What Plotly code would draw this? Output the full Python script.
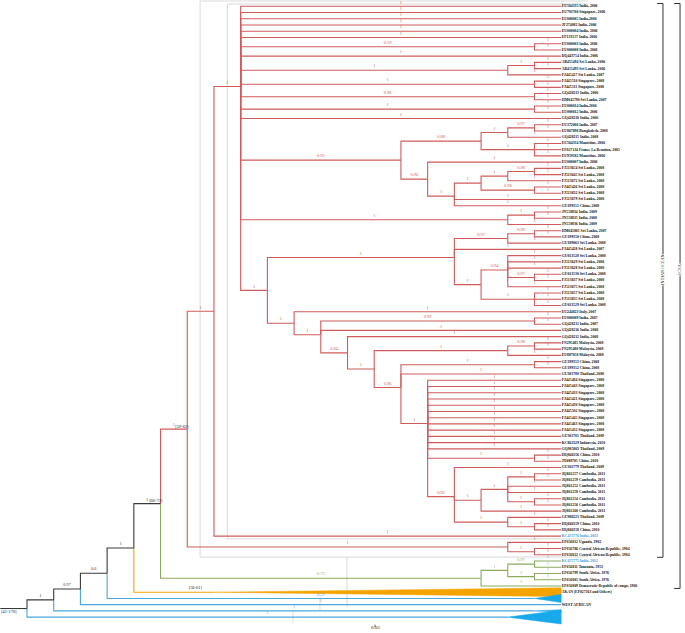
import plotly.graph_objects as go

# ---------------- data ----------------
LEAF_LABELS = [
    "EU564335 India, 2006", "EU703760 Singapore, 2006", "EU000005 India,2006", "JF274082 India, 2006",
    "EU000004 India, 2006", "EF133157 India, 2006", "EU000003 India, 2006", "EU000008 India, 2006",
    "DQ443754 India, 2006", "AB455494 Sri Lanka, 2006", "AB455493 Sri Lanka, 2006", "FJ445427 Sri Lanka, 2007",
    "FJ445510 Singapore, 2008", "FJ445511 Singapore, 2008", "GQ428213 India, 2006", "HM045790 Sri Lanka, 2007",
    "EU000014 India,2006", "EU000012 India, 2006", "GQ428210 India, 2006", "EU372006 India, 2007",
    "EU867898 Bangladesh, 2008", "GQ428215 India, 2008", "EU564334 Mauritius, 2006", "EF027134 France La Reunion, 2005",
    "EU959182 Mauritius, 2006", "EU000007 India, 2006", "FJ513654 Sri Lanka, 2008", "FJ513645 Sri Lanka, 2008",
    "FJ513672 Sri Lanka, 2008", "FJ445426 Sri Lanka, 2008", "FJ513632 Sri Lanka, 2008", "FJ513679 Sri Lanka, 2008",
    "GU199351 China, 2008", "JN558834 India, 2009", "JN558835 India, 2008", "JN558836 India, 2009",
    "HM045801 Sri Lanka, 2007", "GU199350 China, 2008", "GU189063 Sri Lanka, 2008", "FJ445428 Sri Lanka, 2007",
    "GU013528 Sri Lanka, 2008", "FJ513629 Sri Lanka, 2008", "FJ513628 Sri Lanka, 2008", "GU013530 Sri Lanka, 2008",
    "FJ513637 Sri Lanka, 2008", "FJ513675 Sri Lanka, 2008", "FJ513657 Sri Lanka, 2008", "FJ513635 Sri Lanka, 2008",
    "GU013529 Sri Lanka, 2008", "EU244823 Italy, 2007", "EU000009 India, 2007", "GQ428211 India, 2007",
    "GQ428216 India, 2008", "GQ428212 India, 2008", "FN295485 Malaysia, 2008", "FN295480 Malaysia, 2008",
    "EU887058 Malaysia, 2008", "GU199353 China, 2008", "GU199352 China, 2008", "GU301780 Thailand, 2008",
    "FJ445484 Singapore, 2008", "FJ445443 Singapore, 2008", "FJ445433 Singapore, 2008", "FJ445421 Singapore, 2008",
    "FJ445430 Singapore, 2008", "FJ445502 Singapore, 2008", "FJ445445 Singapore, 2008", "FJ445463 Singapore, 2008",
    "FJ445432 Singapore, 2008", "GU301781 Thailand, 2009", "KC862329 Indonesia, 2010", "GQ905863 Thailand, 2009",
    "HQ846356 China, 2010", "JX088705 China, 2010", "GU301779 Thailand, 2009", "JQ861257 Cambodia, 2011",
    "JQ861259 Cambodia, 2011", "JQ861252 Cambodia, 2011", "JQ861258 Cambodia, 2011", "JQ861254 Cambodia, 2011",
    "JQ861256 Cambodia, 2011", "JQ861260 Cambodia, 2011", "GU908223 Thailand, 2009", "HQ846359 China, 2010",
    "HQ846358 China, 2010", "KC475776 India, 2013", "EF056812 Uganda, 1982", "EF056786 Central African Republic, 1984",
    "EF056822 Central African Republic, 1984", "KC475775 India, 2012", "EF056811 Tanzania, 1953", "EF056799 South Africa, 1976",
    "EF056805 South Africa, 1976", "EF056809 Democratic Republic of congo, 1960",
]
BLUE_TEXT = ["KC475776 India, 2013", "KC475775 India, 2012"]
COLLAPSED_TEXT = {"AKAN": "AKAN (EF027163 and Others)", "WA2": "WEST AFRICAN"}
COLLAPSED_LEVEL = {"AKAN": 13, "WA1": 1, "WA3": 1, "WA4": 2}
COLLAPSED_SPREAD = {"AKAN": 0.7, "WA1": 0.65, "WA3": 0.2, "WA4": 1.1}
TIP_SUPPORT = {"WA1": "0.52", "AKAN": ""}

# topology (Newick fragments, support after ')', colour tag after '#')
I_ = "((((L27,L28)0.98,L29)1,(L30,L31)0.98)1,L32,L33)1"
G_ = "(((L20,L21)0.97,L22)1,(L23,L24,L25)1)0.88"
E_ = "(" + G_ + ",(L26," + I_ + ")0.96)0.92"
C_ = ("(L1,L2,L3,L4,L5,L6,(L7,L8)0.59,L9,((L10,L11)1,L12)1,(L13,L14)1,(L15,L16)0.98,(L17,L18)1,L19,"
      + E_ + ",((L34,L35)1,L36)1,%s)1")
M_ = "(((L37,L38)0.99,L39)0.97,L40,((L41,L42,L43,(L44,L45)0.97,L46)0.94,(L47,L48,L49)1)1)1"
W_ = "(L75,(((L76,L77)1,L78,L79,(L80,L81)1)1,L82)1,(L83,(L84,L85)1)1)0.92"
V_ = "(L61,L62,L63,L64,L65,L66,L67,L68,L69,L70,L71,L72,(L73,L74)1," + W_ + ")1"
U_ = "((L58,L59)1,L60," + V_ + ")0.96"
Q_ = "(L50,((L51,L52)0.99,L53,(L54,(((L55,L56)0.98,L57)1," + U_ + ")1)0.84)1)1"
F_ = "(" + M_ + "," + Q_ + ")1"
A_ = "((" + (C_ % F_) + ",L86)1,(L87,(L88,L89)1)1)1#r"
GREEN_ = "(((L90,L91)0.97,(L92,L93)1)1,L94)0.72#g"
NEWICK = "((((((" + A_ + "," + GREEN_ + ")1,AKAN#o)1,WA1#b)0.6,WA2#b)0.97,WA3#b)1#k,WA4#b)1#b,WA5#b)#k"

# node age labels: text, x (tree levels), y (tip rows)
DATE_LABELS = [("[41-170]", -0.68, 97.15), ("[66-72]", 4.82, 79.35), ("[59-62]", 5.8, 67.55), ("[56-61]", 6.3, 93.3)]
BRACKETS = [("INDIAN OCEAN", 0, 88, 23.81), ("ECSA", 0, 93, 24.45)]
SCALE_LABEL = "0.03"

COLOURS = {"r": "#cf5b5b", "g": "#8aaa5e", "o": "#f5a300", "b": "#4aa8dc", "k": "#3a3a3a"}
TRI_COLOURS = {"o": "#f5a300", "b": "#17a9ec"}


# ---------------- tree parsing / layout ----------------
def parse(s):
    pos = 0

    def node():
        nonlocal pos
        kids = []
        if s[pos] == "(":
            pos += 1
            kids.append(node())
            while s[pos] == ",":
                pos += 1
                kids.append(node())
            pos += 1
        start = pos
        while pos < len(s) and s[pos] not in ",()":
            pos += 1
        tok = s[start:pos]
        tag = None
        if "#" in tok:
            tok, tag = tok.split("#")
        n = {"kids": kids, "tag": tag}
        if kids:
            n["support"] = tok
        else:
            n["name"] = tok
            n["support"] = TIP_SUPPORT.get(tok, "1")
        return n

    return node()


root = parse(NEWICK)
tips = []


def layout(n, colour):
    colour = n["tag"] or colour
    n["col"] = colour
    if not n["kids"]:
        n["y"] = len(tips)
        tips.append(n)
        n["h"] = COLLAPSED_LEVEL.get(n["name"], 0)
    else:
        for k in n["kids"]:
            layout(k, colour)
        n["y"] = sum(k["y"] for k in n["kids"]) / len(n["kids"])
        n["h"] = 1 + max(k["h"] for k in n["kids"])


layout(root, "k")
TOP = root["h"]


def X(h):
    return TOP - h


segs = {c: ([], []) for c in COLOURS}
labels = {c: ([], [], []) for c in COLOURS}
tris = []


def draw(n, parent):
    x = X(n["h"])
    if parent is not None:
        px, py = X(parent["h"]), parent["y"]
        xs, ys = segs[n["col"]]
        collapsed = not n["kids"] and n["name"] in COLLAPSED_SPREAD
        if collapsed:
            xs += [px, px, x, None]
            ys += [py, n["y"], n["y"], None]
            sp = COLLAPSED_SPREAD[n["name"]]
            tris.append((n["col"], [x, X(0), X(0), x], [n["y"], n["y"] - sp, n["y"] + sp, n["y"]]))
            end = x
        else:
            end = X(0) if not n["kids"] else x
            xs += [px, px, end, None]
            ys += [py, n["y"], n["y"], None]
        if n["support"]:
            lx, ly, lt = labels[n["col"]]
            lx.append((px + end) / 2)
            ly.append(n["y"] - 0.62)
            lt.append(n["support"])
    for k in n["kids"]:
        draw(k, n)


draw(root, None)

fig = go.Figure()

# faint grey frame lines
GREY_X = [21, 7.5, 7.5, 21, None, 21, 6.48, 6.48, 21, None,
          11.98, 11.98, None, 10.97, 10.97, None, 9.96, 9.96]
GREY_Y = [-0.37, -0.37, 85.45, 85.45, None, -0.85, -0.85, 88.35, 88.35, None,
          88.35, 96.4, None, 94.8, 96.9, None, 96.9, 98.9]
fig.add_trace(go.Scatter(x=GREY_X, y=GREY_Y, mode="lines", line=dict(color="#d9d9d9", width=1),
                         hoverinfo="skip", showlegend=False))

for c, (xs, ys) in segs.items():
    fig.add_trace(go.Scatter(x=xs, y=ys, mode="lines", line=dict(color=COLOURS[c], width=1.1),
                             hoverinfo="skip", showlegend=False))
for c, xs, ys in tris:
    fig.add_trace(go.Scatter(x=xs, y=ys, mode="lines", fill="toself", fillcolor=TRI_COLOURS[c],
                             line=dict(color=TRI_COLOURS[c], width=0.5), hoverinfo="skip", showlegend=False))
# root stem
fig.add_trace(go.Scatter(x=[X(TOP) - 1, X(TOP)], y=[root["y"], root["y"]], mode="lines",
                         line=dict(color=COLOURS["k"], width=1.1), hoverinfo="skip", showlegend=False))

for c, (lx, ly, lt) in labels.items():
    fig.add_trace(go.Scatter(x=lx, y=ly, text=lt, mode="text", textposition="middle center",
                             textfont=dict(family="Liberation Serif", size=4.4, color=COLOURS[c]),
                             hoverinfo="skip", showlegend=False))

# tip labels
tx, ty, tt, tc = [], [], [], []
for t in tips:
    if t["name"].startswith("L"):
        txt = LEAF_LABELS[int(t["name"][1:]) - 1]
    elif t["name"] in COLLAPSED_TEXT:
        txt = COLLAPSED_TEXT[t["name"]]
    else:
        continue
    tx.append(X(0) + 0.02)
    ty.append(t["y"])
    tt.append("<b>" + txt + "</b>")
    tc.append("#3a9ad8" if txt in BLUE_TEXT else "#111111")
fig.add_trace(go.Scatter(x=tx, y=ty, text=tt, mode="text", textposition="middle right",
                         textfont=dict(family="Liberation Serif", size=3.8, color=tc),
                         hoverinfo="skip", showlegend=False))

# date labels
fig.add_trace(go.Scatter(x=[d[1] for d in DATE_LABELS], y=[d[2] for d in DATE_LABELS],
                         text=[d[0] for d in DATE_LABELS], mode="text",
                         textfont=dict(family="Liberation Serif", size=4.4, color="#222"),
                         hoverinfo="skip", showlegend=False))

# brackets
for name, a, b, bx in BRACKETS:
    fig.add_trace(go.Scatter(x=[bx - 0.22, bx, bx, bx - 0.22], y=[a - 0.45, a - 0.45, b + 0.4, b + 0.4],
                             mode="lines", line=dict(color="#333", width=1), hoverinfo="skip", showlegend=False))
    fig.add_annotation(x=bx, y=42.3, text=name, textangle=-90, showarrow=False,
                       font=dict(family="Liberation Serif", size=4.2, color="#222"), bgcolor="white",
                       borderpad=0)

# scale bar
fig.add_trace(go.Scatter(x=[13.03, 13.03], y=[99.2, 99.6], mode="lines", line=dict(color="#666", width=1),
                         hoverinfo="skip", showlegend=False))
fig.add_annotation(x=13.03, y=100.45, yanchor="bottom", text=SCALE_LABEL, showarrow=False,
                   font=dict(family="Liberation Serif", size=5, color="#222"))

fig.update_layout(width=685, height=633, margin=dict(l=0, r=0, t=0, b=0), plot_bgcolor="white",
                  paper_bgcolor="white",
                  xaxis=dict(range=[-27 / 26.71, 658 / 26.71], visible=False, fixedrange=True),
                  yaxis=dict(range=[(633 - 6.3) / 6.233, -6.3 / 6.233], visible=False, fixedrange=True))
fig.write_html("out.html", config={"displayModeBar": False},
               post_script="document.body.style.margin='0';document.documentElement.style.overflow='hidden';")
